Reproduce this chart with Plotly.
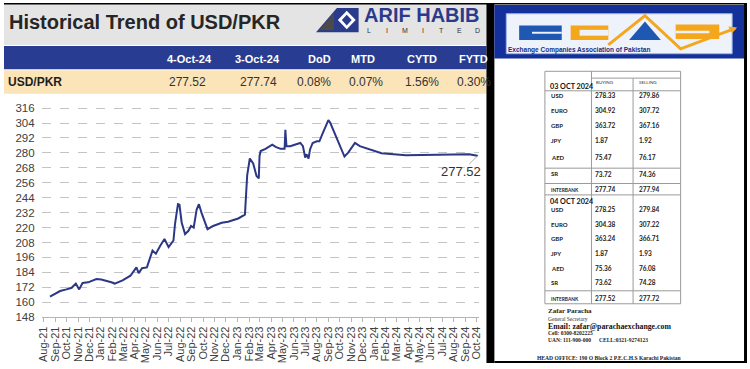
import plotly.graph_objects as go

# ---------------- data ----------------
dates = ["2021-08-18", "2021-09-14", "2021-10-01", "2021-10-15", "2021-10-26", "2021-11-04",
         "2021-11-13", "2021-11-28", "2021-12-20", "2022-01-02", "2022-01-29", "2022-02-07",
         "2022-02-28", "2022-03-21", "2022-04-06", "2022-04-12", "2022-04-21", "2022-05-04",
         "2022-05-19", "2022-05-28", "2022-06-09", "2022-06-20", "2022-07-01", "2022-07-14",
         "2022-07-18", "2022-07-26", "2022-07-30", "2022-08-05", "2022-08-14", "2022-08-23",
         "2022-08-30", "2022-09-06", "2022-09-14", "2022-09-20", "2022-09-27", "2022-10-04",
         "2022-10-13", "2022-10-28", "2022-11-20", "2022-12-07", "2023-01-03", "2023-01-21",
         "2023-01-27", "2023-02-03", "2023-02-12", "2023-02-21", "2023-02-27", "2023-03-01",
         "2023-03-04", "2023-03-17", "2023-04-04", "2023-04-13", "2023-04-26", "2023-05-07",
         "2023-05-09", "2023-05-12", "2023-05-22", "2023-06-05", "2023-06-18", "2023-06-25",
         "2023-07-01", "2023-07-05", "2023-07-10", "2023-07-14", "2023-07-21", "2023-08-01",
         "2023-08-08", "2023-08-17", "2023-08-26", "2023-09-01", "2023-09-06", "2023-09-19",
         "2023-10-02", "2023-10-14", "2023-10-24", "2023-11-11", "2023-11-24", "2023-12-20",
         "2024-01-21", "2024-03-26", "2024-07-01", "2024-09-11", "2024-10-03", "2024-10-04"]
usdpkr = [164.5, 169.0, 170.3, 171.6, 175.0, 170.3,
          175.5, 176.0, 178.7, 178.2, 176.0, 175.0,
          177.6, 181.3, 188.0, 183.4, 187.3, 188.0,
          201.5, 199.0, 205.6, 210.8, 204.3, 209.6,
          222.6, 238.8, 238.3, 223.9, 214.7, 217.4,
          221.3, 220.0, 234.4, 238.8, 231.8, 225.3,
          218.7, 221.3, 223.9, 224.7, 227.3, 230.4,
          262.0, 275.5, 271.5, 261.4, 259.5, 277.6,
          281.5, 283.3, 286.7, 284.9, 283.3, 283.3,
          298.5, 285.4, 285.4, 286.7, 288.0, 285.4,
          276.3, 278.9, 275.5, 282.8, 288.0, 289.3,
          289.3, 295.9, 302.4, 306.3, 304.2, 294.6,
          285.4, 277.1, 280.2, 288.0, 285.4, 283.0,
          279.7, 278.1, 278.9, 278.9, 277.74, 277.52]

last_label = "277.52"

header_cols = ["4-Oct-24", "3-Oct-24", "DoD", "MTD", "CYTD", "FYTD"]
header_vals = ["277.52", "277.74", "0.08%", "0.07%", "1.56%", "0.30%"]
row_name = "USD/PKR"

currencies = ["USD", "EURO", "GBP", "JPY", "AED", "SR"]
buy_03 = ["278.33", "304.92", "363.72", "1.87", "75.47", "73.72"]
sell_03 = ["279.86", "307.72", "367.16", "1.92", "76.17", "74.36"]
interbank_03 = ["277.74", "277.94"]
buy_04 = ["278.25", "304.38", "363.24", "1.87", "75.36", "73.62"]
sell_04 = ["279.84", "307.22", "366.71", "1.93", "76.08", "74.28"]
interbank_04 = ["277.52", "277.72"]

W, H = 750, 369


def X(p):
    return p / W


def Y(p):
    return 1 - p / H


shapes = []
annos = []


def rect(x0, y0, x1, y1, fill, line=None, lw=1, layer="below"):
    shapes.append(dict(type="rect", xref="paper", yref="paper", x0=X(x0), x1=X(x1),
                       y0=Y(y1), y1=Y(y0), fillcolor=fill, layer=layer,
                       line=dict(width=lw if line else 0, color=line or fill)))


def seg(x0, y0, x1, y1, color, w=1):
    shapes.append(dict(type="line", xref="paper", yref="paper", x0=X(x0), x1=X(x1),
                       y0=Y(y0), y1=Y(y1), line=dict(color=color, width=w), layer="above"))


def path(pts, fill, line=None, lw=1):
    d = "M " + " L ".join(f"{X(a):.5f},{Y(b):.5f}" for a, b in pts) + " Z"
    shapes.append(dict(type="path", xref="paper", yref="paper", path=d, fillcolor=fill,
                       line=dict(width=lw if line else 0, color=line or fill), layer="above"))


def polyline(pts, color, w):
    d = "M " + " L ".join(f"{X(a):.5f},{Y(b):.5f}" for a, b in pts)
    shapes.append(dict(type="path", xref="paper", yref="paper", path=d,
                       line=dict(width=w, color=color), layer="above"))


def txt(x, y, s, size, color="#222", anchor="left", family="Liberation Sans, Arial", bold=False):
    annos.append(dict(xref="paper", yref="paper", x=X(x), y=Y(y), text=f"<b>{s}</b>" if bold else s,
                      showarrow=False, xanchor=anchor, yanchor="middle",
                      font=dict(size=size, color=color, family=family), borderpad=0))


# ---------------- left panel header ----------------
rect(0, 0, 487, 43, "#e4e4e4")
rect(0, 44, 487, 68, "#283d91")
rect(0, 69, 487, 93, "#fbe4b8")
txt(4, 19, "Historical Trend of USD/PKR", 20, "#262626", bold=True)

# Arif Habib logo
path([(315, 30), (336, 5), (358, 5), (358, 30)], "#2b3b8c")
path([(346, 8), (355, 17.5), (346, 27), (337, 17.5)], "#ffffff")
path([(346, 12), (351, 17.5), (346, 23), (341, 17.5)], "#2b3b8c")
path([(318, 28), (333, 10), (333, 28)], "#4a4a4a")
txt(362, 12.5, "ARIF HABIB", 20, "#2b3b8c", bold=True)
for i, ch in enumerate("LIMITED"):
    txt(368 + i * 18.3, 28, ch, 7, "#333", anchor="center")

header_x = [187, 256, 318, 362, 422, 474]
value_x = [185, 257, 313, 365, 422, 474]
for cx, s in zip(header_x, header_cols):
    txt(cx, 57, s, 11, "#ffffff", anchor="center", bold=True)
txt(3, 81, row_name, 12, "#1e1e1e", bold=True)
for cx, s in zip(value_x, header_vals):
    txt(cx, 81, s, 12, "#333333", anchor="center")

# ---------------- separators / frame ----------------
rect(487, 0, 495, H, "#000000")
rect(0, 0, W, 1.5, "#000000")
rect(747, 0, W, H, "#000000")
rect(495, 367, W, H, "#000000")

# ---------------- ECAP logo ----------------
rect(495, 2, 747, 57, "#14309a")
rect(507, 11, 735, 52, "#eef2fa", line="#9fb3e0", lw=1)
rect(520, 23, 563, 38, "#1f58b3", layer="above")
rect(533, 29.5, 563, 31.5, "#eef2fa", layer="above")
rect(572, 23, 610, 38, "#f4a61d", layer="above")
rect(581, 27.5, 610, 33.5, "#eef2fa", layer="above")
path([(647, 19), (631, 38), (663, 38)], "#1f58b3")
rect(678, 22, 722, 37, "#f4a61d", layer="above")
rect(678, 28.5, 712, 31, "#eef2fa", layer="above")
polyline([(610, 43), (647, 13), (683, 47), (738, 26)], "#f4a61d", 3)
path([(740, 25), (731, 24), (735, 31)], "#f4a61d")
txt(508, 48.5, "Exchange Companies Association of Pakistan", 6.5, "#1a2f80", bold=True)

# ---------------- rate table ----------------
tc = "#9a9a9a"
seg(546, 70, 683, 70, tc)
seg(593, 77, 683, 77, tc)
for yy in [90, 169.3, 185, 196.7, 295, 308.3]:
    seg(546, yy, 683, yy, tc)
seg(546, 70, 546, 308.3, tc)
seg(593, 70, 593, 308.3, tc)
seg(635, 77, 635, 308.3, tc)
seg(683, 70, 683, 308.3, tc)

tf = "Lato, Liberation Sans"
txt(550, 86, "03 OCT 2024", 7.2, "#111", family=tf, bold=True)
txt(597, 81, "BUYING", 4.5, "#333", family=tf)
txt(640, 81, "SELLING", 4.5, "#333", family=tf)
rows03_y = [94.5, 110, 126, 141, 158, 176]
for yy, c, b, s in zip(rows03_y, currencies, buy_03, sell_03):
    txt(551, yy - (1.5 if c == "SR" else 0), c, 6, "#222", family=tf, bold=True)
    txt(596, yy, b, 6.5, "#222", family=tf, bold=True)
    txt(640, yy, s, 6.5, "#222", family=tf, bold=True)
txt(551, 191.5, "INTERBANK", 4.8, "#222", family=tf, bold=True)
txt(596, 191.5, interbank_03[0], 6.5, "#222", family=tf, bold=True)
txt(640, 191.5, interbank_03[1], 6.5, "#222", family=tf, bold=True)

txt(550, 203.5, "04 OCT 2024", 7.2, "#111", family=tf, bold=True)
rows04_y = [211.7, 226.7, 241.7, 256.7, 271.7, 286.7]
for yy, c, b, s in zip(rows04_y, currencies, buy_04, sell_04):
    txt(551, yy, c, 6, "#222", family=tf, bold=True)
    txt(596, yy, b, 6.5, "#222", family=tf, bold=True)
    txt(640, yy, s, 6.5, "#222", family=tf, bold=True)
txt(551, 303.3, "INTERBANK", 4.8, "#222", family=tf, bold=True)
txt(596, 303.3, interbank_04[0], 6.5, "#222", family=tf, bold=True)
txt(640, 303.3, interbank_04[1], 6.5, "#222", family=tf, bold=True)

sf = "Liberation Serif, DejaVu Serif"
txt(548, 315.7, "Zafar Paracha", 7, "#222", family=sf, bold=True)
txt(548, 324, "General Secretary", 5.5, "#333", family=sf)
txt(548, 331.7, "Email: zafar@parachaexchange.com", 7.8, "#111", family=sf, bold=True)
txt(548, 338.5, "Cell: 0300-8202225", 5.5, "#222", family=sf, bold=True)
txt(548, 345.7, "UAN: 111-900-000", 5.5, "#222", family=sf, bold=True)
txt(600, 345.7, "CELL:0321-9274123", 5.5, "#222", family=sf, bold=True)
txt(537, 364, "HEAD OFFICE: 190 O Block 2 P.E.C.H.S Karachi Pakistan", 5.6, "#222", family=sf, bold=True)

# ---------------- line chart ----------------
fig = go.Figure()
fig.add_trace(go.Scatter(x=dates, y=usdpkr, mode="lines",
                         line=dict(color="#2c3786", width=2), hoverinfo="x+y"))

annos.append(dict(x=dates[-1], y=usdpkr[-1], xref="x", yref="y", text=last_label,
                  showarrow=True, arrowhead=0, arrowwidth=1, arrowcolor="#b0b0b0",
                  ax=-17, ay=16, font=dict(size=13, color="#333", family="Liberation Sans, Arial"),
                  borderpad=0))

fig.update_layout(
    width=W, height=H,
    margin=dict(l=0, r=0, t=0, b=0),
    paper_bgcolor="#ffffff",
    plot_bgcolor="rgba(0,0,0,0)",
    showlegend=False,
    shapes=shapes,
    annotations=annos,
    xaxis=dict(domain=[X(38), X(479.5)], type="date",
               range=["2021-07-26 17:00", "2024-10-07 14:00"],
               dtick="M1", tick0="2021-08-01", tickformat="%b-%y", tickangle=-90,
               tickfont=dict(size=11, color="#404040", family="Liberation Sans, Arial"),
               showgrid=False, showline=True, linecolor="#b5b5b5", linewidth=1,
               ticks="outside", ticklen=4, tickcolor="#b5b5b5", zeroline=False),
    yaxis=dict(domain=[Y(322), Y(105.2)], range=[148, 318], tick0=148, dtick=12,
               tickfont=dict(size=11.5, color="#404040", family="Liberation Sans, Arial"),
               showgrid=True, gridcolor="#c4c4c4", griddash="dash", gridwidth=1,
               showline=False, zeroline=False, ticks="", ticklabelstandoff=6),
)

fig.write_html("out.html")
